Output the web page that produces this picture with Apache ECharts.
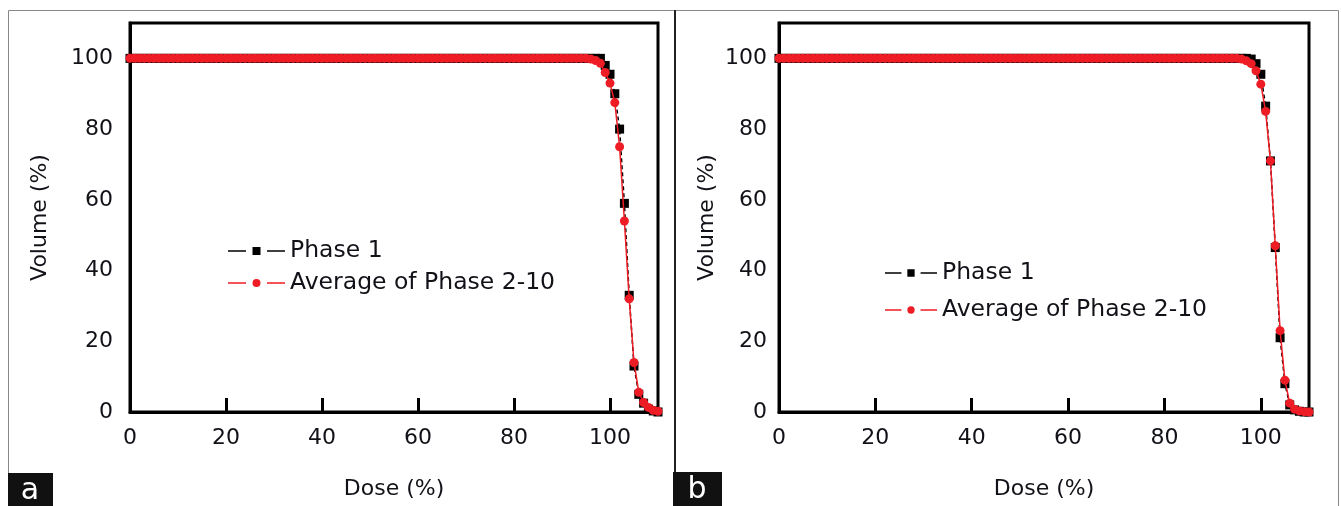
<!DOCTYPE html>
<html>
<head>
<meta charset="utf-8">
<script src="https://cdn.jsdelivr.net/npm/echarts@6/dist/echarts.min.js"></script>
<style>
html,body{margin:0;padding:0;background:#fff;}
#chart{width:1341px;height:506px;}
</style>
</head>
<body>
<div id="chart"></div>
<script>
// Dose (%) sample points
const dose = [
  0,1,2,3,4,5,6,7,8,9,
  10,11,12,13,14,15,16,17,18,19,
  20,21,22,23,24,25,26,27,28,29,
  30,31,32,33,34,35,36,37,38,39,
  40,41,42,43,44,45,46,47,48,49,
  50,51,52,53,54,55,56,57,58,59,
  60,61,62,63,64,65,66,67,68,69,
  70,71,72,73,74,75,76,77,78,79,
  80,81,82,83,84,85,86,87,88,89,
  90,91,92,93,94,95,96,97,98,99,
  100,101,102,103,104,105,106,107,108,109,
  110
];
// Panel a: Phase 1 volume (%)
const phase1A = [
  100,100,100,100,100,100,100,100,100,100,
  100,100,100,100,100,100,100,100,100,100,
  100,100,100,100,100,100,100,100,100,100,
  100,100,100,100,100,100,100,100,100,100,
  100,100,100,100,100,100,100,100,100,100,
  100,100,100,100,100,100,100,100,100,100,
  100,100,100,100,100,100,100,100,100,100,
  100,100,100,100,100,100,100,100,100,100,
  100,100,100,100,100,100,100,100,100,100,
  100,100,100,100,100,100,100,100,
  100,98,95.5,90,80,59,33,13,5,2.5,0.8,0.3,0
];
// Panel a: Average of Phase 2-10 volume (%)
const avgA = [
  100,100,100,100,100,100,100,100,100,100,
  100,100,100,100,100,100,100,100,100,100,
  100,100,100,100,100,100,100,100,100,100,
  100,100,100,100,100,100,100,100,100,100,
  100,100,100,100,100,100,100,100,100,100,
  100,100,100,100,100,100,100,100,100,100,
  100,100,100,100,100,100,100,100,100,100,
  100,100,100,100,100,100,100,100,100,100,
  100,100,100,100,100,100,100,100,100,100,
  100,100,100,100,100,100,
  99.8,99.4,98.6,96,93,87.5,75,54,32,14,5.6,2.7,1.3,0.5,0.2
];
// Panel b: Phase 1 volume (%)
const phase1B = [
  100,100,100,100,100,100,100,100,100,100,
  100,100,100,100,100,100,100,100,100,100,
  100,100,100,100,100,100,100,100,100,100,
  100,100,100,100,100,100,100,100,100,100,
  100,100,100,100,100,100,100,100,100,100,
  100,100,100,100,100,100,100,100,100,100,
  100,100,100,100,100,100,100,100,100,100,
  100,100,100,100,100,100,100,100,100,100,
  100,100,100,100,100,100,100,100,100,100,
  100,100,100,100,100,100,100,100,
  99.8,98.5,95.5,86.5,71,46.5,21,8,2,0.6,0.2,0,0
];
// Panel b: Average of Phase 2-10 volume (%)
const avgB = [
  100,100,100,100,100,100,100,100,100,100,
  100,100,100,100,100,100,100,100,100,100,
  100,100,100,100,100,100,100,100,100,100,
  100,100,100,100,100,100,100,100,100,100,
  100,100,100,100,100,100,100,100,100,100,
  100,100,100,100,100,100,100,100,100,100,
  100,100,100,100,100,100,100,100,100,100,
  100,100,100,100,100,100,100,100,100,100,
  100,100,100,100,100,100,100,100,100,100,
  100,100,100,100,100,100,
  99.8,99.3,98.5,96.5,92.7,85,71,47,23,9,2.5,0.8,0.3,0.1,0
];
const seriesNames = ['Phase 1', 'Average of Phase 2-10'];
const panelLabels = ['a', 'b'];
const xTitle = 'Dose (%)';
const yTitle = 'Volume (%)';

const FONT = 'DejaVu Sans';
const TXT = '#111118';
const RED = '#ee1c25';

function pairs(arr) { return dose.map((d, i) => [d, arr[i]]); }

function xAxis(gi) {
  return {
    type: 'value', gridIndex: gi, min: 0, max: 110, interval: 20,
    name: xTitle, nameLocation: 'middle', nameGap: 66,
    nameTextStyle: { fontFamily: FONT, fontSize: 22, color: TXT },
    axisLine: { show: true, lineStyle: { color: '#000', width: 3 } },
    axisTick: { show: true, inside: true, length: 14, lineStyle: { color: '#000', width: 3 } },
    axisLabel: { fontFamily: FONT, fontSize: 22, color: TXT, margin: 15, showMaxLabel: false },
    splitLine: { show: false }
  };
}
function yAxis(gi, gap, margin) {
  return {
    type: 'value', gridIndex: gi, min: 0, max: 110, interval: 20,
    name: yTitle, nameLocation: 'middle', nameGap: gap, nameRotate: 90,
    nameTextStyle: { fontFamily: FONT, fontSize: 22, color: TXT },
    axisLine: { show: true, lineStyle: { color: '#000', width: 3 } },
    axisTick: { show: false },
    axisLabel: { fontFamily: FONT, fontSize: 22, color: TXT, margin: margin, showMaxLabel: false },
    splitLine: { show: false }
  };
}
function blackSeries(gi, data) {
  return {
    name: seriesNames[0], type: 'line', xAxisIndex: gi, yAxisIndex: gi,
    data: pairs(data), symbol: 'rect', symbolSize: 9, showAllSymbol: true,
    lineStyle: { color: '#000', width: 1.5, type: [4, 3] },
    itemStyle: { color: '#000', borderWidth: 0 }, z: 2, animation: false
  };
}
function redSeries(gi, data) {
  return {
    name: seriesNames[1], type: 'line', xAxisIndex: gi, yAxisIndex: gi,
    data: pairs(data), symbol: 'circle', symbolSize: 9, showAllSymbol: true,
    lineStyle: { color: RED, width: 1.5 },
    itemStyle: { color: RED, borderWidth: 0 }, z: 3, animation: false
  };
}
const iconSq = 'path://M0,3.25H18V4.75H0Z M24.5,0H32.5V8H24.5Z M39,3.25H57V4.75H39Z';
const iconCi = 'path://M0,3.25H18V4.75H0Z M24.5,4A4,4 0 1,0 32.5,4A4,4 0 1,0 24.5,4Z M39,3.25H57V4.75H39Z';
function legend(left, top, gap, w, textGap) {
  return {
    orient: 'vertical', left: left, top: top, padding: 0,
    itemWidth: w, itemHeight: 8, itemGap: gap, itemTextGap: textGap,
    selectedMode: false,
    itemStyle: { borderWidth: 0 },
    textStyle: { fontFamily: FONT, fontSize: 23.5, color: TXT, lineHeight: 22 },
    data: [
      { name: seriesNames[0], icon: iconSq },
      { name: seriesNames[1], icon: iconCi }
    ]
  };
}

const chart = echarts.init(document.getElementById('chart'), null, { renderer: 'canvas' });
chart.setOption({
  backgroundColor: '#fff',
  animation: false,
  grid: [
    { left: 130, top: 23, width: 528, height: 389, show: true, borderColor: '#000', borderWidth: 3, backgroundColor: 'transparent' },
    { left: 779, top: 23, width: 530, height: 389, show: true, borderColor: '#000', borderWidth: 3, backgroundColor: 'transparent' }
  ],
  xAxis: [xAxis(0), xAxis(1)],
  yAxis: [yAxis(0, 79, 17), yAxis(1, 61, 12)],
  legend: [legend(228, 239, 8, 57, 6), legend(885, 261, 13, 52, 7)],
  series: [blackSeries(0, phase1A), redSeries(0, avgA), blackSeries(1, phase1B), redSeries(1, avgB)],
  graphic: [
    { type: 'rect', shape: { x: 8.5, y: 10.5, width: 1330, height: 500 }, style: { fill: 'none', stroke: '#888', lineWidth: 1 }, silent: true },
    { type: 'line', shape: { x1: 675, y1: 10, x2: 675, y2: 506 }, style: { stroke: '#222', lineWidth: 2 }, silent: true },
    { type: 'rect', shape: { x: 8, y: 473, width: 45, height: 33 }, style: { fill: '#111' }, silent: true },
    { type: 'text', x: 30, y: 491, style: { text: panelLabels[0], fill: '#fff', font: '30px "DejaVu Sans"', textAlign: 'center', textVerticalAlign: 'middle' }, silent: true },
    { type: 'rect', shape: { x: 673, y: 472, width: 49, height: 34 }, style: { fill: '#111' }, silent: true },
    { type: 'text', x: 697, y: 490, style: { text: panelLabels[1], fill: '#fff', font: '30px "DejaVu Sans"', textAlign: 'center', textVerticalAlign: 'middle' }, silent: true }
  ]
});
</script>
</body>
</html>
